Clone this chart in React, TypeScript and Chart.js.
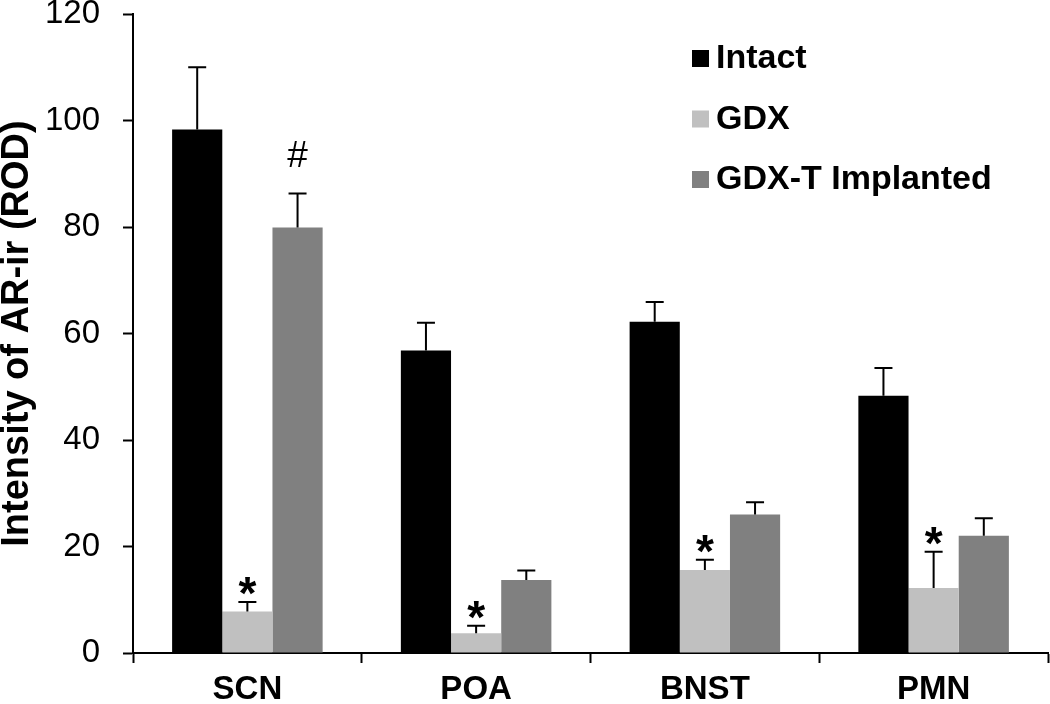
import React, { useEffect, useRef } from 'react';
import { Chart, registerables } from 'chart.js';
Chart.register(...registerables);

const FONT = '"Liberation Sans", Arial, sans-serif';

const categories = ['SCN', 'POA', 'BNST', 'PMN'];
const seriesLabels = ['Intact', 'GDX', 'GDX-T Implanted'];
const seriesColors = ['#000000', '#c0c0c0', '#808080'];

const intact = [98.3, 56.8, 62.2, 48.3];
const intactErr = [11.7, 5.2, 3.7, 5.2];
const gdx = [7.8, 3.7, 15.6, 12.2];
const gdxErr = [1.8, 1.4, 1.9, 6.8];
const gdxT = [79.9, 13.7, 26.0, 22.0];
const gdxTErr = [6.4, 1.8, 2.3, 3.3];

const intactMarks = ['', '', '', ''];
const gdxMarks = ['*', '*', '*', '*'];
const gdxTMarks = ['#', '', '', ''];

const yTicks = { min: 0, max: 120, step: 20 };
const yTitle = 'Intensity of AR-ir (ROD)';

const errors = [intactErr, gdxErr, gdxTErr];
const marks = [intactMarks, gdxMarks, gdxTMarks];

export default function App() {
  const ref = useRef<HTMLCanvasElement>(null);
  useEffect(() => {
    document.body.style.margin = '0';
    const errorBarPlugin = {
      id: 'errorBars',
      afterDatasetsDraw(chart: any) {
        const ctx = chart.ctx;
        const y = chart.scales.y;
        chart.data.datasets.forEach((ds: any, di: number) => {
          const meta = chart.getDatasetMeta(di);
          meta.data.forEach((bar: any, i: number) => {
            const v = ds.data[i];
            const e = errors[di][i];
            const yTop = y.getPixelForValue(v + e);
            const yBar = y.getPixelForValue(v);
            ctx.save();
            ctx.strokeStyle = '#000';
            ctx.lineWidth = 2;
            ctx.beginPath();
            ctx.moveTo(bar.x, yBar);
            ctx.lineTo(bar.x, yTop);
            ctx.moveTo(bar.x - 9, yTop);
            ctx.lineTo(bar.x + 9, yTop);
            ctx.stroke();
            const m = marks[di][i];
            if (m) {
              ctx.fillStyle = '#000';
              ctx.textAlign = 'center';
              ctx.textBaseline = 'alphabetic';
              if (m === '*') {
                ctx.font = `bold 46px ${FONT}`;
                ctx.fillText(m, bar.x, yTop + 7);
              } else {
                ctx.font = `37px ${FONT}`;
                ctx.fillText(m, bar.x, yTop - 26);
              }
            }
            ctx.restore();
          });
        });
      },
    };
    const legendPlugin = {
      id: 'customLegend',
      afterDraw(chart: any) {
        const ctx = chart.ctx;
        ctx.save();
        ctx.font = `bold 34px ${FONT}`;
        ctx.textAlign = 'left';
        ctx.textBaseline = 'alphabetic';
        chart.data.datasets.forEach((ds: any, i: number) => {
          const base = 68 + i * 60.5;
          ctx.fillStyle = ds.backgroundColor;
          ctx.fillRect(692, base - 18, 17, 17);
          ctx.fillStyle = '#000';
          ctx.fillText(ds.label, 716, base);
        });
        ctx.restore();
      },
    };
    const chart = new Chart(ref.current!, {
      type: 'bar',
      data: {
        labels: categories,
        datasets: [
          { label: seriesLabels[0], data: intact, backgroundColor: seriesColors[0] },
          { label: seriesLabels[1], data: gdx, backgroundColor: seriesColors[1] },
          { label: seriesLabels[2], data: gdxT, backgroundColor: seriesColors[2] },
        ].map((d) => ({ ...d, borderWidth: 0, barPercentage: 1, categoryPercentage: 0.658 })),
      },
      options: {
        responsive: false,
        animation: false,
        devicePixelRatio: 1,
        layout: { padding: { top: 14, right: 2, left: 0, bottom: 0 } },
        plugins: { legend: { display: false }, tooltip: { enabled: false } },
        scales: {
          x: {
            grid: {
              display: true,
              drawOnChartArea: false,
              drawTicks: true,
              tickLength: 10,
              tickWidth: 2,
              tickColor: '#000',
              offset: true,
            },
            border: { display: true, color: '#000', width: 2 },
            ticks: {
              color: '#000',
              font: { size: 33, weight: 'bold', family: FONT, lineHeight: 1 },
              padding: 10,
            },
            afterFit(scale: any) {
              scale.height = 51;
              scale.paddingLeft = 0;
              scale.paddingRight = 0;
            },
          },
          y: {
            min: yTicks.min,
            max: yTicks.max,
            grid: {
              display: true,
              drawOnChartArea: false,
              drawTicks: true,
              tickLength: 10,
              tickWidth: 2,
              tickColor: '#000',
            },
            border: { display: true, color: '#000', width: 2 },
            ticks: {
              stepSize: yTicks.step,
              color: '#000',
              font: { size: 33, family: FONT },
              padding: 23,
            },
            title: {
              display: true,
              text: yTitle,
              color: '#000',
              font: { size: 38, weight: 'bold', family: FONT, lineHeight: 0.92 },
              padding: 0,
            },
            afterFit(scale: any) {
              scale.width = 133;
              scale.paddingTop = 0;
              scale.paddingBottom = 0;
            },
          },
        },
      },
      plugins: [errorBarPlugin, legendPlugin],
    } as any);
    return () => chart.destroy();
  }, []);
  return (
    <div style={{ position: 'fixed', left: 0, top: 0, width: 1050, height: 704, background: '#fff' }}>
      <canvas ref={ref} width={1050} height={704} />
    </div>
  );
}
